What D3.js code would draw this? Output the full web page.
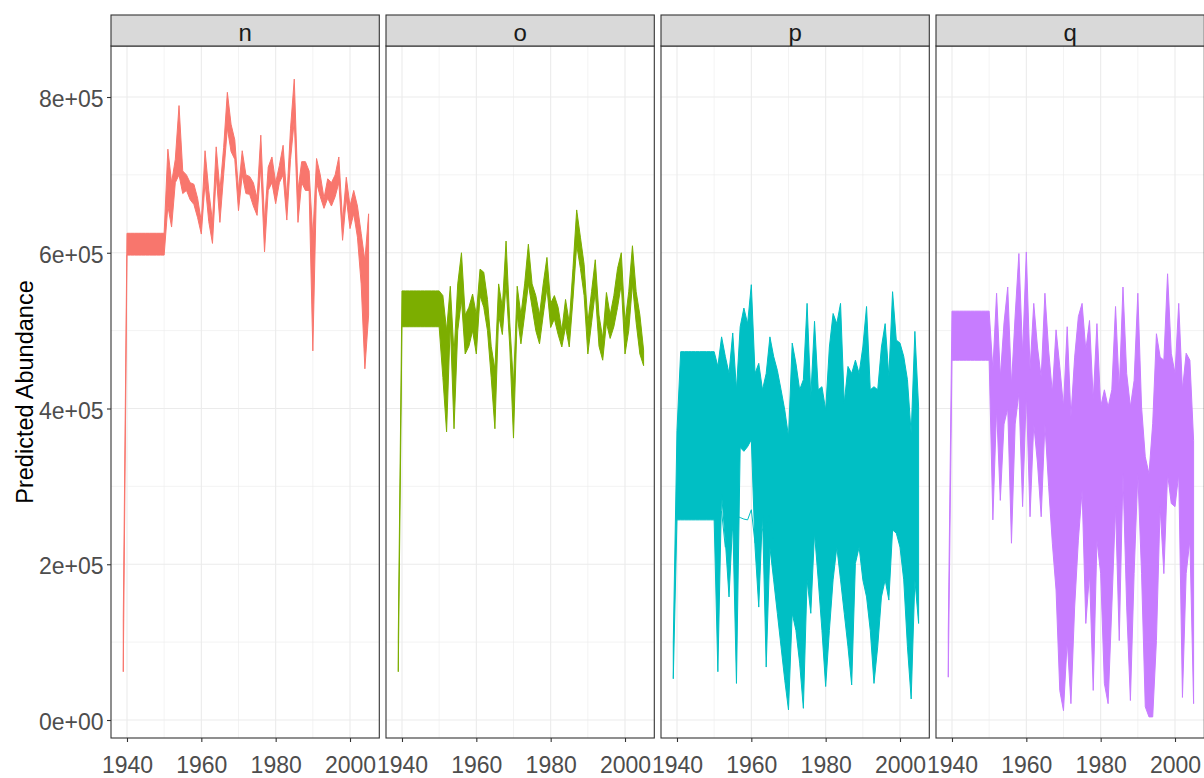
<!DOCTYPE html>
<html>
<head>
<meta charset="utf-8">
<script src="https://cdn.jsdelivr.net/npm/d3@7"></script>
<style>
  body { margin: 0; background: #fff; }
  text { font-family: "Liberation Sans", Arial, sans-serif; }
</style>
</head>
<body>
<script>
var w = 1204;
var h = 778;

// years of the runs
var years = [1939,
    1940, 1941, 1942, 1943, 1944, 1945, 1946, 1947, 1948, 1949,
    1950, 1951, 1952, 1953, 1954, 1955, 1956, 1957, 1958, 1959,
    1960, 1961, 1962, 1963, 1964, 1965, 1966, 1967, 1968, 1969,
    1970, 1971, 1972, 1973, 1974, 1975, 1976, 1977, 1978, 1979,
    1980, 1981, 1982, 1983, 1984, 1985, 1986, 1987, 1988, 1989,
    1990, 1991, 1992, 1993, 1994, 1995, 1996, 1997, 1998, 1999,
    2000, 2001, 2002, 2003, 2004, 2005];

var panels = ["n", "o", "p", "q"];
var colors = ["#F8766D", "#7CAE00", "#00BFC4", "#C77CFF"];

// upper and lower edge of the bundle of runs, thousands
var nHi = [130,
    625, 625, 625, 625, 625, 625, 625, 625, 625, 625,
    625, 733, 690, 720, 789, 705, 700, 690, 688, 670,
    640, 731, 680, 640, 736, 680, 735, 806, 765, 745,
    680, 731, 700, 698, 690, 670, 751, 640, 710, 723,
    690, 712, 738, 670, 760, 823, 680, 717, 717, 705,
    620, 721, 700, 670, 695, 690, 700, 723, 640, 697,
    660, 680, 660, 625, 590, 650];
var nLo = [62,
    597, 597, 597, 597, 597, 597, 597, 597, 597, 597,
    597, 660, 633, 690, 700, 676, 680, 668, 662, 645,
    624, 690, 640, 612, 700, 639, 700, 760, 730, 720,
    654, 700, 676, 675, 660, 648, 710, 601, 680, 690,
    663, 690, 700, 642, 720, 770, 639, 690, 680, 680,
    474, 690, 672, 657, 670, 660, 672, 690, 616, 670,
    631, 650, 620, 560, 451, 520];

var oHi = [105,
    551, 551, 551, 551, 551, 551, 551, 551, 551, 551,
    551, 545, 500, 557, 470, 560, 600, 520, 530, 547,
    520, 579, 575, 540, 480, 450, 560, 530, 615, 510,
    430, 557, 520, 560, 611, 560, 545, 520, 560, 594,
    535, 545, 530, 500, 540, 510, 580, 655, 620, 585,
    510, 550, 591, 520, 490, 549, 520, 545, 580, 600,
    510, 550, 609, 550, 520, 475];
var oLo = [62,
    505, 505, 505, 505, 505, 505, 505, 505, 505, 505,
    505, 440, 370, 510, 374, 500, 540, 470, 480, 500,
    470, 545, 530, 500, 440, 374, 520, 495, 560, 479,
    362, 520, 483, 520, 560, 530, 500, 483, 520, 555,
    504, 515, 495, 479, 505, 479, 540, 610, 580, 545,
    470, 510, 550, 480, 462, 510, 490, 505, 530, 560,
    470, 500, 560, 510, 470, 455];

var pHi = [100,
    372, 473, 473, 473, 473, 473, 473, 473, 473, 473,
    473, 454, 492, 467, 445, 497, 424, 505, 529, 509,
    559, 445, 458, 424, 445, 492, 467, 449, 424, 398,
    364, 484, 458, 424, 437, 535, 415, 512, 424, 428,
    398, 479, 522, 509, 535, 407, 454, 445, 462, 445,
    479, 531, 424, 428, 424, 479, 509, 441, 550, 488,
    484, 467, 437, 368, 499, 402];
var pLo = [53,
    257, 257, 257, 257, 257, 257, 257, 257, 257, 257,
    257, 62, 290, 231, 158, 257, 47, 350, 345, 351,
    360, 222, 145, 265, 68, 222, 180, 137, 94, 51,
    13, 137, 115, 73, 15, 180, 137, 240, 180, 115,
    43, 115, 180, 222, 180, 137, 94, 45, 201, 222,
    180, 158, 115, 47, 94, 158, 180, 154, 244, 240,
    222, 180, 94, 27, 180, 124];
// one low run that sits apart from the bundle in p
var pOut = [null,
    null, null, null, null, null, null, null, null, null, null,
    257, 257, 268, 222, 235, 245, 262, 260, 258, 257,
    270, 227, 231, 245, 250, 265, 230, null, null, null,
    null, null, null, null, null, null, null, null, null, null,
    null, null, null, null, null, null, null, null, null, null,
    null, null, null, null, null, null, null, null, null, null,
    null, null, null, null, null, null];

var qHi = [112,
    525, 525, 525, 525, 525, 525, 525, 525, 525, 525,
    525, 450, 548, 440, 510, 556, 430, 520, 599, 470,
    601, 450, 535, 479, 440, 548, 475, 420, 501, 454,
    402, 505, 389, 466, 518, 535, 475, 513, 411, 509,
    402, 424, 402, 424, 531, 424, 556, 445, 402, 436,
    548, 402, 338, 316, 381, 496, 466, 462, 573, 471,
    445, 535, 424, 471, 462, 359];
var qLo = [55,
    462, 462, 462, 462, 462, 462, 462, 462, 462, 462,
    462, 257, 400, 282, 380, 400, 227, 380, 420, 274,
    420, 261, 380, 330, 261, 380, 300, 227, 167, 38,
    12, 102, 21, 145, 231, 295, 124, 188, 38, 231,
    188, 47, 21, 145, 274, 102, 316, 145, 25, 188,
    316, 188, 17, 4, 4, 102, 274, 188, 316, 278,
    274, 316, 29, 188, 231, 21];

var his = [nHi, oHi, pHi, qHi];
var los = [nLo, oLo, pLo, qLo];
var extras = [null, null, pOut, null];

var xTicks = [1940, 1960, 1980, 2000];
var xMinor = [1950, 1970, 1990];
var yTicks = [0, 200000, 400000, 600000, 800000];
var yTickLabels = ["0e+00", "2e+05", "4e+05", "6e+05", "8e+05"];
var yMinor = [100000, 300000, 500000, 700000];

var left = 111;
var panelW = 268.3;
var gap = 6.7;
var stripTop = 15;
var plotTop = 46;
var plotBottom = 738;

var x = d3.scaleLinear()
    .domain([1935.7, 2007.88])
    .range([0, panelW]);

var y = d3.scaleLinear()
    .domain([-23100, 865500])
    .range([plotBottom, plotTop]);

var svg = d3.select("body")
    .append("svg")
    .attr("width", w)
    .attr("height", h);

svg.append("rect")
    .attr("width", w)
    .attr("height", h)
    .attr("fill", "#fff");

var defs = svg.append("defs");
defs.append("clipPath")
    .attr("id", "clip")
    .append("rect")
    .attr("x", 0)
    .attr("y", plotTop)
    .attr("width", panelW)
    .attr("height", plotBottom - plotTop);

var band = d3.area()
    .x(function(d, i){ return x(years[i]); })
    .y0(function(d){ return y(d[0] * 1000); })
    .y1(function(d){ return y(d[1] * 1000); });

var runLine = d3.line()
    .defined(function(d){ return d != null; })
    .x(function(d, i){ return x(years[i]); })
    .y(function(d){ return y(d * 1000); });

panels.forEach(function(name, k){
    var g = svg.append("g")
        .attr("transform", "translate(" + (left + k * (panelW + gap)) + ",0)");

    // grid
    g.selectAll(".ymin")
        .data(yMinor)
        .enter()
        .append("line")
        .attr("x1", 0).attr("x2", panelW)
        .attr("y1", function(d){ return y(d); })
        .attr("y2", function(d){ return y(d); })
        .attr("stroke", "#EBEBEB")
        .attr("stroke-width", 0.6);
    g.selectAll(".xmin")
        .data(xMinor)
        .enter()
        .append("line")
        .attr("x1", function(d){ return x(d); })
        .attr("x2", function(d){ return x(d); })
        .attr("y1", plotTop).attr("y2", plotBottom)
        .attr("stroke", "#EBEBEB")
        .attr("stroke-width", 0.6);
    g.selectAll(".ymaj")
        .data(yTicks)
        .enter()
        .append("line")
        .attr("x1", 0).attr("x2", panelW)
        .attr("y1", function(d){ return y(d); })
        .attr("y2", function(d){ return y(d); })
        .attr("stroke", "#EBEBEB")
        .attr("stroke-width", 1.1);
    g.selectAll(".xmaj")
        .data(xTicks)
        .enter()
        .append("line")
        .attr("x1", function(d){ return x(d); })
        .attr("x2", function(d){ return x(d); })
        .attr("y1", plotTop).attr("y2", plotBottom)
        .attr("stroke", "#EBEBEB")
        .attr("stroke-width", 1.1);

    // bundle of runs
    var pairs = his[k].map(function(v, i){ return [los[k][i], v]; });
    var plot = g.append("g").attr("clip-path", "url(#clip)");
    plot.append("path")
        .datum(pairs)
        .attr("d", band)
        .attr("fill", colors[k])
        .attr("stroke", colors[k])
        .attr("stroke-width", 1)
        .attr("stroke-linejoin", "round");

    if (extras[k]) {
        plot.append("path")
            .datum(extras[k])
            .attr("d", runLine)
            .attr("fill", "none")
            .attr("stroke", colors[k])
            .attr("stroke-width", 1);
    }

    // border
    g.append("rect")
        .attr("x", 0).attr("y", plotTop)
        .attr("width", panelW).attr("height", plotBottom - plotTop)
        .attr("fill", "none")
        .attr("stroke", "#333333")
        .attr("stroke-width", 1.1);

    // strip
    g.append("rect")
        .attr("x", 0).attr("y", stripTop)
        .attr("width", panelW).attr("height", plotTop - stripTop)
        .attr("fill", "#D9D9D9")
        .attr("stroke", "#333333")
        .attr("stroke-width", 1.1);
    g.append("text")
        .attr("x", panelW / 2)
        .attr("y", 40.7)
        .attr("text-anchor", "middle")
        .style("font-size", "24px")
        .style("fill", "#1A1A1A")
        .text(name);

    // x axis
    var xa = g.append("g")
        .attr("transform", "translate(0," + plotBottom + ")")
        .call(d3.axisBottom(x).tickValues(xTicks).tickSize(4).tickFormat(d3.format("d")));
    xa.select(".domain").remove();
    xa.selectAll("line").attr("stroke", "#333333").attr("stroke-width", 1.1);
    xa.selectAll("text")
        .attr("y", 35.3)
        .attr("dy", null)
        .style("font-size", "23px")
        .style("fill", "#4D4D4D");
});

// y axis
var ya = svg.append("g")
    .attr("transform", "translate(" + left + ",0)")
    .call(d3.axisLeft(y).tickValues(yTicks).tickSize(4).tickPadding(3.5)
        .tickFormat(function(d, i){ return yTickLabels[i]; }));
ya.select(".domain").remove();
ya.selectAll("line").attr("stroke", "#333333").attr("stroke-width", 1.1);
ya.selectAll("text")
    .attr("dy", "0.42em")
    .style("font-size", "23px")
    .style("fill", "#4D4D4D");

svg.append("text")
    .attr("transform", "translate(33," + ((plotTop + plotBottom) / 2) + ") rotate(-90)")
    .attr("text-anchor", "middle")
    .style("font-size", "23.5px")
    .style("fill", "#000")
    .text("Predicted Abundance");
</script>
</body>
</html>
